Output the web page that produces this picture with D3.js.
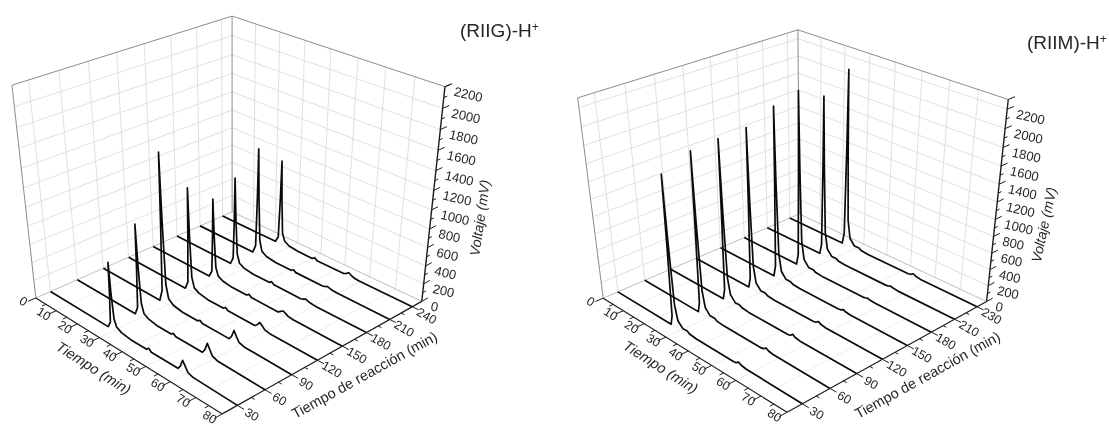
<!DOCTYPE html>
<html>
<head>
<meta charset="utf-8">
<script src="https://cdn.jsdelivr.net/npm/d3@7"></script>
<style>
  html, body { margin: 0; padding: 0; background: #fff; }
  #graf { width: 1109px; height: 426px; }
  svg { display: block; filter: blur(0.5px); }
  text { font-family: "Liberation Sans", Arial, sans-serif; fill: #262626; }
</style>
</head>
<body>
<div id="graf"></div>
<script>
// I. Datos
// Panel izquierdo (RIIG)-H+
tituloIzq = '(RIIG)-H'
tiempoTicks = [0, 10, 20, 30, 40, 50, 60, 70, 80]
reaccionIzq = [30, 60, 90, 120, 150, 180, 210, 240]
etiquetasIzq = ['30', '60', '90', '120', '150', '180', '210', '240']
voltajeIzq = [0, 200, 400, 600, 800, 1000, 1200, 1400, 1600, 1800, 2000, 2200]

tiemposIzq = [0, 26, 27.2, 27.7, 28, 28.4, 29, 30, 32, 36, 44, 45, 46, 57, 58, 59, 60, 61, 63, 80]
izq30  = [0, 0, 70, 400,  730, 400, 130, 55, 25,  8, 8, 35, 8, 10, 50, 130, 80, 30, 10, 0]
izq60  = [0, 0, 90, 550, 1000, 550, 160, 60, 28,  8, 8, 30, 8, 10, 55, 140, 85, 30, 10, 0]
izq90  = [0, 0, 130, 880, 1600, 880, 220, 75, 30, 10, 8, 30, 8,  8, 50, 130, 75, 28, 10, 0]
izq120 = [0, 0, 90, 620, 1130, 620, 170, 60, 28,  8, 8, 30, 8,  6, 30,  70, 45, 18,  6, 0]
izq150 = [0, 0, 70, 490,  890, 490, 140, 55, 25,  8, 8, 30, 8,  5, 25,  45, 30, 14,  5, 0]
izq180 = [0, 0, 80, 540,  990, 540, 150, 55, 25,  8, 8, 30, 8,  4, 14,  28, 18, 10,  4, 0]
izq210 = [0, 0, 90, 650, 1190, 650, 175, 60, 25,  8, 6, 26, 6,  4, 12,  25, 16,  9,  4, 0]
izq240 = [0, 0, 70, 520,  950, 520, 140, 55, 22,  8, 6, 28, 6,  5, 20,  42, 26, 12,  4, 0]
seriesIzq = [izq30, izq60, izq90, izq120, izq150, izq180, izq210, izq240]
// corrimiento del pico principal y de las bandas pequeñas en cada inyección (min)
corrPicoIzq  = [1.2, 1.2, 0.4, 0.4, 0, -1.2, -1.6, -1.6]
corrBandaIzq = [0, -1.2, -1.2, -1.2, -1.8, -2.4, -3, -3.6]

// Panel derecho (RIIM)-H+
tituloDer = '(RIIM)-H'
reaccionDer = [30, 60, 90, 120, 150, 180, 210, 240]
etiquetasDer = ['30', '60', '90', '120', '150', '180', '210', '230']
voltajeDer = [0, 200, 400, 600, 800, 1000, 1200, 1400, 1600, 1800, 2000, 2200]

tiemposDer = [0, 24.6, 25.4, 25.8, 26, 26.4, 27, 28, 30, 32, 33, 36, 53, 54, 55, 56, 58, 80]
der30  = [0, 0, 120, 1000, 1750, 1000, 280, 100, 35, 38, 18, 8, 6, 14, 38, 20, 8, 0]
der60  = [0, 0, 130, 1070, 1880, 1070, 300, 105, 35, 38, 18, 8, 6, 14, 40, 20, 8, 0]
der90  = [0, 0, 130, 1080, 1890, 1080, 300, 105, 35, 36, 18, 8, 6, 14, 42, 20, 8, 0]
der120 = [0, 0, 130, 1080, 1900, 1080, 300, 105, 35, 36, 18, 8, 6, 14, 40, 20, 8, 0]
der150 = [0, 0, 140, 1150, 2030, 1150, 320, 110, 35, 36, 18, 8, 6, 12, 30, 16, 8, 0]
der180 = [0, 0, 140, 1190, 2090, 1190, 330, 110, 35, 36, 18, 8, 6, 10, 22, 14, 6, 0]
der210 = [0, 0, 130, 1100, 1930, 1100, 310, 105, 35, 34, 18, 8, 6, 10, 24, 14, 6, 0]
der240 = [0, 0, 140, 1210, 2130, 1210, 330, 110, 35, 38, 18, 8, 6, 14, 36, 18, 8, 0]
seriesDer = [der30, der60, der90, der120, der150, der180, der210, der240]
corrPicoDer  = [1, 1, 0.4, 0.4, 0.6, 0, 0, 0]
corrBandaDer = [0, 0, 0, 0, 0, 0, 0, 0]

// II. Configuración
ancho_total = 1109
alto_total = 426

svg = d3.select('#graf').append('svg')
        .attr('width', ancho_total)
        .attr('height', alto_total)

// Resuelve la cámara (matriz 3x4) a partir de las esquinas de la caja.
// Cada esquina: [u, v, w, x, y] con u, v, w entre 0 y 1
function camara(esquinas) {
  filas = []
  esquinas.forEach(([u, v, w, x, y]) => {
    x = x / 500
    y = y / 500
    filas.push([u, v, w, 1, 0, 0, 0, 0, -x * u, -x * v, -x * w, x])
    filas.push([0, 0, 0, 0, u, v, w, 1, -y * u, -y * v, -y * w, y])
  })
  // ecuaciones normales
  n = 11
  M = d3.range(n).map(i => d3.range(n + 1).map(j => d3.sum(filas, f => f[i] * f[j])))
  for (i = 0; i < n; i++) {
    piv = i
    for (k = i + 1; k < n; k++) if (Math.abs(M[k][i]) > Math.abs(M[piv][i])) piv = k
    ;[M[i], M[piv]] = [M[piv], M[i]]
    for (k = 0; k < n; k++) {
      if (k == i) continue
      m = M[k][i] / M[i][i]
      for (j = i; j <= n; j++) M[k][j] -= m * M[i][j]
    }
  }
  const p = M.map((f, i) => f[n] / f[i])
  return (u, v, w) => {
    h = p[8] * u + p[9] * v + p[10] * w + 1
    return [500 * (p[0] * u + p[1] * v + p[2] * w + p[3]) / h,
            500 * (p[4] * u + p[5] * v + p[6] * w + p[7]) / h]
  }
}

// III. render de un panel
function panel(c) {
  g = svg.append('g')
  const proy = camara(c.esquinas)

  x = d3.scaleLinear().domain([0, 80]).range([0, 1])
  y = d3.scaleLinear().domain(c.dominioY).range([0, 1])
  z = d3.scaleLinear().domain([0, c.maxZ]).range([0, 1])

  const linea = d3.line()

  function seg(a, b, color, grueso) {
    g.append('path')
      .attr('d', linea([proy(...a), proy(...b)]))
      .attr('fill', 'none')
      .attr('stroke', color)
      .attr('stroke-width', grueso)
  }

  // rejilla: pared izquierda, pared derecha y piso
  rejilla = '#dcdcdc'
  c.reaccion.forEach(d => {
    seg([0, y(d), 0], [0, y(d), 1], rejilla, 0.9)
    seg([0, y(d), 0], [1, y(d), 0], '#ececec', 0.9)
  })
  tiempoTicks.slice(1, -1).forEach(d => {
    seg([x(d), 1, 0], [x(d), 1, 1], rejilla, 0.9)
    seg([x(d), 0, 0], [x(d), 1, 0], '#ececec', 0.9)
  })
  c.voltaje.slice(1).forEach(d => {
    if (z(d) >= 1) return
    seg([0, 0, z(d)], [0, 1, z(d)], rejilla, 0.9)
    seg([0, 1, z(d)], [1, 1, z(d)], rejilla, 0.9)
  })

  // marco
  marco = '#8c8c8c'
  seg([0, 0, 0], [0, 0, 1], marco, 1)
  seg([0, 0, 1], [0, 1, 1], marco, 1)
  seg([0, 1, 1], [1, 1, 1], marco, 1)
  seg([0, 1, 0], [0, 1, 1], marco, 1)
  seg([0, 0, 0], [0, 1, 0], '#b5b5b5', 0.9)
  seg([0, 1, 0], [1, 1, 0], '#b5b5b5', 0.9)

  // trazas, de atrás hacia adelante
  d3.range(c.series.length - 1, -1, -1).forEach(s => {
    ultimo = c.tiempos.length - 1
    puntos = c.tiempos.map((t, i) => {
      // el inicio y el final de la traza quedan fijos
      corr = (i == 0 || i == ultimo) ? 0 : (t < 40 ? c.corrPico[s] : c.corrBanda[s])
      return proy(x(t + corr), y(c.reaccion[s]), z(c.series[s][i]))
    })
    g.append('path')
      .attr('d', linea(puntos))
      .attr('fill', 'none')
      .attr('stroke', '#0a0a0a')
      .attr('stroke-width', 1.7)
      .attr('stroke-linejoin', 'round')
  })

  // ejes
  eje = '#1c1c1c'
  seg([0, 0, 0], [1, 0, 0], eje, 1.2)
  seg([1, 0, 0], [1, 1, 0], eje, 1.2)
  seg([1, 1, 0], [1, 1, 1], eje, 1.4)

  pasoX = 10
  d3.range(0, 80 + 1, pasoX / 2).forEach(d => {
    mayor = d % pasoX == 0
    seg([x(d), 0, 0], [x(d), mayor ? -0.035 : -0.018, 0], eje, 1)
  })
  c.reaccion.forEach((d, i) => {
    seg([1, y(d), 0], [1.03, y(d), 0], eje, 1)
    sig = c.reaccion[i + 1]
    if (sig) seg([1, y((d + sig) / 2), 0], [1.015, y((d + sig) / 2), 0], eje, 1)
  })
  c.voltaje.forEach((d, i) => {
    seg([1, 1, z(d)], [1, 1.035, z(d)], eje, 1)
    sig = c.voltaje[i + 1]
    if (sig) seg([1, 1, z((d + sig) / 2)], [1, 1.018, z((d + sig) / 2)], eje, 1)
  })
  seg([1, 1, 1], [1, 1.035, 1], eje, 1)

  function texto(px, py, ang, cadena, tam, anc) {
    return g.append('text')
      .attr('transform', `translate(${px},${py}) rotate(${ang})`)
      .attr('text-anchor', anc || 'middle')
      .attr('dominant-baseline', 'middle')
      .style('font-size', tam + 'px')
      .text(cadena)
  }

  // etiquetas de ticks
  tiempoTicks.forEach(d => {
    q = proy(x(d), 0, 0)
    texto(q[0] - 13, q[1] + 4, 32, d, 12.5)
  })
  c.reaccion.forEach((d, i) => {
    q = proy(1, y(d), 0)
    texto(q[0] + 14, q[1] + 10, 30, c.etiquetas[i], 12.5)
  })
  c.voltaje.forEach(d => {
    q = proy(1, 1, z(d))
    texto(q[0] + 9, q[1] + 5.5, 13, d, 13, 'start')
  })

  // títulos de ejes
  texto(c.tx[0], c.tx[1], 32.5, 'Tiempo (min)', 14.5).style('font-style', 'italic')
  texto(c.ty[0], c.ty[1], -29, 'Tiempo de reacción (min)', 14.5)
  texto(c.tz[0], c.tz[1], c.tz[2], 'Voltaje (mV)', 14).style('font-style', 'italic')

  // título del panel
  t = g.append('text')
    .attr('x', c.titulo[0])
    .attr('y', c.titulo[1])
    .style('font-size', '19px')
    .text(c.nombre)
  t.append('tspan')
    .attr('dy', -6)
    .style('font-size', '12px')
    .text('+')
}

// IV. Despliegue
panel({
  nombre: tituloIzq,
  titulo: [460, 37],
  esquinas: [[0, 0, 0, 36, 298], [0, 1, 0, 232, 212], [1, 1, 0, 422, 301], [1, 0, 0, 222, 414],
             [0, 0, 1, 12, 85], [0, 1, 1, 232, 16], [1, 1, 1, 445, 87]],
  dominioY: [14, 253],
  maxZ: 2200,
  reaccion: reaccionIzq,
  etiquetas: etiquetasIzq,
  voltaje: voltajeIzq,
  tiempos: tiemposIzq,
  series: seriesIzq,
  corrPico: corrPicoIzq,
  corrBanda: corrBandaIzq,
  tx: [93, 369],
  ty: [365, 376],
  tz: [481, 218, -82]
})

panel({
  nombre: tituloDer,
  titulo: [1027, 49],
  esquinas: [[0, 0, 0, 603, 300], [0, 1, 0, 800, 212], [1, 1, 0, 986, 303], [1, 0, 0, 787, 411],
             [0, 0, 1, 578, 97], [0, 1, 1, 797, 31], [1, 1, 1, 1009, 99]],
  dominioY: [14, 253],
  maxZ: 2300,
  reaccion: reaccionDer,
  etiquetas: etiquetasDer,
  voltaje: voltajeDer,
  tiempos: tiemposDer,
  series: seriesDer,
  corrPico: corrPicoDer,
  corrBanda: corrBandaDer,
  tx: [660, 368],
  ty: [928, 376],
  tz: [1045, 225, -78]
})
</script>
</body>
</html>
